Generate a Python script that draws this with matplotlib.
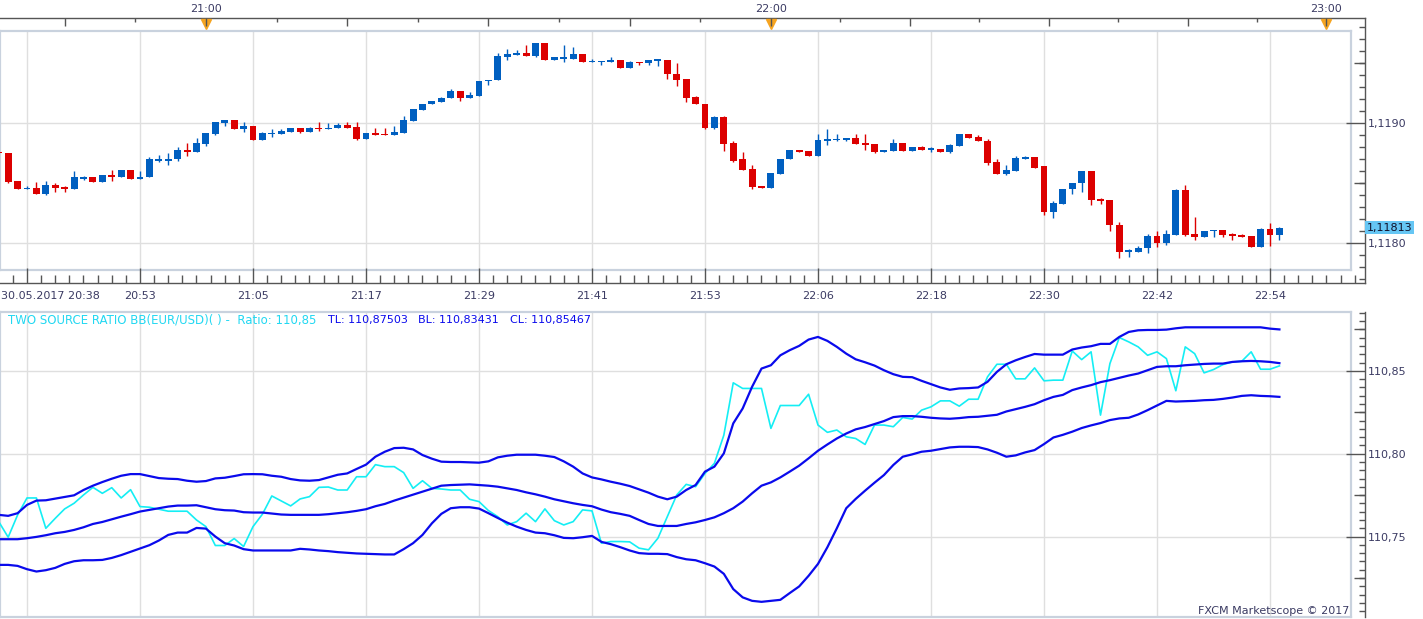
import numpy as np
import matplotlib
matplotlib.use("Agg")
import matplotlib.pyplot as plt
import matplotlib.transforms as mtransforms
from matplotlib.ticker import MultipleLocator, FixedLocator, FuncFormatter

# ---------------- data (1-minute EUR/USD bars, first bar is 3 bars before 20:38) ----------------
first_bar = -3

bar_open = [1.11876, 1.11875, 1.11852, 1.11845, 1.11846, 1.11841, 1.11849, 1.11847, 1.11845, 1.11854,
            1.11855, 1.11851, 1.11857, 1.11855, 1.11861, 1.11854, 1.11855, 1.11869, 1.11869, 1.11870,
            1.11878, 1.11876, 1.11883, 1.11891, 1.11900, 1.11903, 1.11895, 1.11898, 1.11886, 1.11891,
            1.11891, 1.11893, 1.11896, 1.11893, 1.11896, 1.11895, 1.11896, 1.11899, 1.11897, 1.11887,
            1.11892, 1.11891, 1.11890, 1.11892, 1.11902, 1.11911, 1.11916, 1.11918, 1.11921, 1.11927,
            1.11921, 1.11923, 1.11935, 1.11936, 1.11955, 1.11957, 1.11959, 1.11956, 1.11967, 1.11953,
            1.11954, 1.11954, 1.11958, 1.11951, 1.11951, 1.11951, 1.11953, 1.11946, 1.11951, 1.11950,
            1.11952, 1.11953, 1.11941, 1.11937, 1.11922, 1.11916, 1.11896, 1.11905, 1.11884, 1.11870,
            1.11862, 1.11848, 1.11846, 1.11858, 1.11870, 1.11878, 1.11877, 1.11873, 1.11885, 1.11886,
            1.11886, 1.11888, 1.11884, 1.11883, 1.11876, 1.11877, 1.11884, 1.11877, 1.11880, 1.11878,
            1.11879, 1.11876, 1.11881, 1.11891, 1.11889, 1.11885, 1.11868, 1.11858, 1.11860, 1.11870,
            1.11872, 1.11864, 1.11826, 1.11833, 1.11845, 1.11850, 1.11860, 1.11837, 1.11836, 1.11815,
            1.11793, 1.11793, 1.11796, 1.11806, 1.11800, 1.11807, 1.11844, 1.11808, 1.11805, 1.11810,
            1.11811, 1.11808, 1.11807, 1.11806, 1.11797, 1.11812, 1.11807]
bar_high = [1.11876, 1.11875, 1.11852, 1.11848, 1.11851, 1.11852, 1.11850, 1.11848, 1.11860, 1.11856,
            1.11855, 1.11857, 1.11861, 1.11861, 1.11861, 1.11860, 1.11872, 1.11874, 1.11875, 1.11880,
            1.11884, 1.11888, 1.11892, 1.11901, 1.11903, 1.11903, 1.11901, 1.11898, 1.11893, 1.11895,
            1.11895, 1.11896, 1.11896, 1.11897, 1.11901, 1.11900, 1.11900, 1.11901, 1.11901, 1.11892,
            1.11896, 1.11896, 1.11898, 1.11906, 1.11912, 1.11916, 1.11919, 1.11922, 1.11929, 1.11927,
            1.11926, 1.11935, 1.11936, 1.11959, 1.11962, 1.11961, 1.11965, 1.11967, 1.11967, 1.11955,
            1.11965, 1.11964, 1.11958, 1.11954, 1.11952, 1.11955, 1.11953, 1.11952, 1.11951, 1.11953,
            1.11953, 1.11953, 1.11950, 1.11937, 1.11923, 1.11916, 1.11906, 1.11906, 1.11885, 1.11876,
            1.11865, 1.11848, 1.11859, 1.11870, 1.11878, 1.11878, 1.11877, 1.11891, 1.11895, 1.11891,
            1.11888, 1.11891, 1.11891, 1.11883, 1.11878, 1.11887, 1.11884, 1.11880, 1.11881, 1.11880,
            1.11879, 1.11883, 1.11891, 1.11891, 1.11890, 1.11887, 1.11870, 1.11865, 1.11873, 1.11873,
            1.11872, 1.11864, 1.11835, 1.11845, 1.11850, 1.11860, 1.11860, 1.11838, 1.11836, 1.11818,
            1.11795, 1.11798, 1.11808, 1.11810, 1.11811, 1.11845, 1.11849, 1.11822, 1.11810, 1.11811,
            1.11811, 1.11809, 1.11808, 1.11806, 1.11813, 1.11817, 1.11814]
bar_low = [1.11875, 1.11850, 1.11845, 1.11845, 1.11841, 1.11840, 1.11843, 1.11843, 1.11845, 1.11853,
           1.11851, 1.11851, 1.11852, 1.11855, 1.11854, 1.11854, 1.11855, 1.11868, 1.11865, 1.11869,
           1.11873, 1.11876, 1.11881, 1.11890, 1.11898, 1.11895, 1.11893, 1.11886, 1.11886, 1.11889,
           1.11891, 1.11893, 1.11892, 1.11893, 1.11894, 1.11895, 1.11896, 1.11896, 1.11886, 1.11887,
           1.11890, 1.11890, 1.11890, 1.11892, 1.11902, 1.11911, 1.11916, 1.11918, 1.11921, 1.11919,
           1.11921, 1.11923, 1.11932, 1.11936, 1.11953, 1.11957, 1.11956, 1.11955, 1.11953, 1.11953,
           1.11951, 1.11954, 1.11951, 1.11951, 1.11949, 1.11951, 1.11946, 1.11946, 1.11949, 1.11949,
           1.11948, 1.11937, 1.11931, 1.11918, 1.11916, 1.11895, 1.11895, 1.11877, 1.11868, 1.11861,
           1.11845, 1.11846, 1.11846, 1.11858, 1.11870, 1.11876, 1.11873, 1.11873, 1.11882, 1.11885,
           1.11885, 1.11883, 1.11878, 1.11875, 1.11876, 1.11877, 1.11877, 1.11877, 1.11878, 1.11876,
           1.11876, 1.11875, 1.11881, 1.11888, 1.11885, 1.11865, 1.11858, 1.11857, 1.11860, 1.11870,
           1.11863, 1.11824, 1.11821, 1.11833, 1.11841, 1.11843, 1.11832, 1.11833, 1.11810, 1.11788,
           1.11789, 1.11793, 1.11792, 1.11797, 1.11799, 1.11807, 1.11806, 1.11803, 1.11805, 1.11805,
           1.11805, 1.11803, 1.11805, 1.11797, 1.11797, 1.11798, 1.11803]
bar_close = [1.11875, 1.11851, 1.11845, 1.11846, 1.11841, 1.11849, 1.11846, 1.11845, 1.11855, 1.11855,
             1.11851, 1.11857, 1.11855, 1.11861, 1.11854, 1.11855, 1.11870, 1.11870, 1.11870, 1.11878,
             1.11876, 1.11884, 1.11892, 1.11901, 1.11903, 1.11895, 1.11898, 1.11886, 1.11892, 1.11892,
             1.11894, 1.11896, 1.11893, 1.11896, 1.11895, 1.11896, 1.11899, 1.11896, 1.11887, 1.11892,
             1.11890, 1.11890, 1.11893, 1.11903, 1.11912, 1.11916, 1.11919, 1.11921, 1.11927, 1.11921,
             1.11924, 1.11935, 1.11936, 1.11956, 1.11958, 1.11959, 1.11956, 1.11967, 1.11953, 1.11955,
             1.11955, 1.11958, 1.11951, 1.11952, 1.11952, 1.11953, 1.11946, 1.11951, 1.11950, 1.11953,
             1.11953, 1.11941, 1.11936, 1.11921, 1.11916, 1.11896, 1.11905, 1.11883, 1.11869, 1.11861,
             1.11847, 1.11846, 1.11859, 1.11870, 1.11878, 1.11876, 1.11873, 1.11886, 1.11887, 1.11887,
             1.11888, 1.11883, 1.11882, 1.11876, 1.11878, 1.11884, 1.11877, 1.11880, 1.11878, 1.11879,
             1.11876, 1.11882, 1.11891, 1.11888, 1.11885, 1.11867, 1.11858, 1.11861, 1.11871, 1.11872,
             1.11863, 1.11826, 1.11834, 1.11845, 1.11850, 1.11860, 1.11836, 1.11835, 1.11815, 1.11793,
             1.11794, 1.11796, 1.11806, 1.11800, 1.11808, 1.11844, 1.11807, 1.11805, 1.11810, 1.11811,
             1.11807, 1.11806, 1.11805, 1.11797, 1.11812, 1.11807, 1.11813]

# ratio indicator and its bands, one value per bar
ratio = [110.7590, 110.7496, 110.7630, 110.7733, 110.7733, 110.7550, 110.7610, 110.7667, 110.7701, 110.7751,
         110.7797, 110.7761, 110.7795, 110.7733, 110.7783, 110.7681, 110.7677, 110.7665, 110.7653, 110.7653,
         110.7653, 110.7600, 110.7560, 110.7446, 110.7446, 110.7488, 110.7440, 110.7560, 110.7635, 110.7745,
         110.7715, 110.7685, 110.7727, 110.7741, 110.7797, 110.7799, 110.7781, 110.7781, 110.7861, 110.7861,
         110.7934, 110.7922, 110.7922, 110.7886, 110.7791, 110.7837, 110.7791, 110.7787, 110.7781, 110.7781,
         110.7725, 110.7711, 110.7657, 110.7620, 110.7570, 110.7590, 110.7641, 110.7590, 110.7667, 110.7596,
         110.7570, 110.7590, 110.7661, 110.7655, 110.7460, 110.7470, 110.7470, 110.7468, 110.7430, 110.7420,
         110.7490, 110.7620, 110.7751, 110.7815, 110.7801, 110.7881, 110.7942, 110.8112, 110.8428, 110.8394,
         110.8394, 110.8394, 110.8153, 110.8291, 110.8291, 110.8291, 110.8359, 110.8173, 110.8129, 110.8143,
         110.8102, 110.8092, 110.8056, 110.8173, 110.8173, 110.8163, 110.8219, 110.8209, 110.8263, 110.8283,
         110.8319, 110.8319, 110.8287, 110.8329, 110.8329, 110.8464, 110.8540, 110.8540, 110.8452, 110.8452,
         110.8518, 110.8440, 110.8444, 110.8444, 110.8620, 110.8568, 110.8615, 110.8233, 110.8544, 110.8701,
         110.8675, 110.8645, 110.8594, 110.8615, 110.8574, 110.8380, 110.8645, 110.8604, 110.8488, 110.8508,
         110.8538, 110.8554, 110.8558, 110.8615, 110.8510, 110.8510, 110.8530]
band_top = [110.7631, 110.7625, 110.7641, 110.7691, 110.7717, 110.7719, 110.7729, 110.7739, 110.7749, 110.7781,
            110.7807, 110.7829, 110.7849, 110.7867, 110.7877, 110.7877, 110.7865, 110.7853, 110.7849, 110.7847,
            110.7837, 110.7831, 110.7835, 110.7851, 110.7855, 110.7865, 110.7876, 110.7877, 110.7876, 110.7867,
            110.7861, 110.7847, 110.7839, 110.7837, 110.7841, 110.7857, 110.7873, 110.7881, 110.7908, 110.7934,
            110.7982, 110.8012, 110.8034, 110.8036, 110.8026, 110.7992, 110.7970, 110.7952, 110.7950, 110.7950,
            110.7948, 110.7946, 110.7954, 110.7978, 110.7988, 110.7994, 110.7994, 110.7994, 110.7988, 110.7980,
            110.7954, 110.7922, 110.7881, 110.7857, 110.7845, 110.7831, 110.7819, 110.7805, 110.7785, 110.7765,
            110.7741, 110.7725, 110.7741, 110.7781, 110.7811, 110.7892, 110.7922, 110.8002, 110.8183, 110.8273,
            110.8404, 110.8514, 110.8534, 110.8594, 110.8625, 110.8651, 110.8689, 110.8705, 110.8681, 110.8645,
            110.8604, 110.8570, 110.8552, 110.8532, 110.8504, 110.8480, 110.8464, 110.8462, 110.8440, 110.8420,
            110.8400, 110.8386, 110.8394, 110.8396, 110.8400, 110.8434, 110.8494, 110.8540, 110.8564, 110.8584,
            110.8602, 110.8598, 110.8598, 110.8598, 110.8629, 110.8641, 110.8649, 110.8663, 110.8663, 110.8705,
            110.8735, 110.8745, 110.8747, 110.8747, 110.8749, 110.8757, 110.8763, 110.8763, 110.8763, 110.8763,
            110.8763, 110.8763, 110.8763, 110.8763, 110.8763, 110.8755, 110.87503]
band_mid = [110.7484, 110.7484, 110.7484, 110.7490, 110.7498, 110.7508, 110.7520, 110.7528, 110.7540, 110.7556,
            110.7576, 110.7588, 110.7604, 110.7620, 110.7635, 110.7651, 110.7661, 110.7671, 110.7681, 110.7687,
            110.7687, 110.7689, 110.7677, 110.7665, 110.7659, 110.7657, 110.7647, 110.7645, 110.7645, 110.7639,
            110.7633, 110.7631, 110.7631, 110.7631, 110.7631, 110.7635, 110.7641, 110.7647, 110.7655, 110.7665,
            110.7683, 110.7697, 110.7717, 110.7735, 110.7753, 110.7771, 110.7789, 110.7807, 110.7811, 110.7813,
            110.7815, 110.7811, 110.7807, 110.7801, 110.7791, 110.7781, 110.7767, 110.7755, 110.7741, 110.7725,
            110.7713, 110.7701, 110.7691, 110.7683, 110.7663, 110.7647, 110.7637, 110.7625, 110.7600, 110.7576,
            110.7564, 110.7564, 110.7564, 110.7576, 110.7586, 110.7600, 110.7616, 110.7641, 110.7671, 110.7711,
            110.7761, 110.7807, 110.7827, 110.7857, 110.7892, 110.7928, 110.7972, 110.8018, 110.8056, 110.8092,
            110.8122, 110.8147, 110.8161, 110.8179, 110.8197, 110.8221, 110.8227, 110.8227, 110.8223, 110.8217,
            110.8213, 110.8211, 110.8215, 110.8221, 110.8223, 110.8229, 110.8235, 110.8255, 110.8269, 110.8283,
            110.8299, 110.8323, 110.8343, 110.8355, 110.8384, 110.8400, 110.8414, 110.8432, 110.8444, 110.8458,
            110.8472, 110.8484, 110.8504, 110.8524, 110.8528, 110.8528, 110.8534, 110.8538, 110.8542, 110.8544,
            110.8544, 110.8554, 110.8558, 110.8560, 110.8558, 110.8554, 110.85467]
band_low = [110.7329, 110.7329, 110.7323, 110.7303, 110.7289, 110.7297, 110.7311, 110.7335, 110.7351, 110.7357,
            110.7357, 110.7359, 110.7371, 110.7388, 110.7408, 110.7428, 110.7448, 110.7476, 110.7510, 110.7524,
            110.7524, 110.7552, 110.7548, 110.7500, 110.7460, 110.7446, 110.7424, 110.7416, 110.7416, 110.7416,
            110.7416, 110.7416, 110.7426, 110.7422, 110.7416, 110.7412, 110.7406, 110.7402, 110.7398, 110.7396,
            110.7394, 110.7392, 110.7392, 110.7424, 110.7460, 110.7510, 110.7580, 110.7637, 110.7671, 110.7677,
            110.7677, 110.7669, 110.7641, 110.7612, 110.7584, 110.7560, 110.7540, 110.7524, 110.7520, 110.7508,
            110.7492, 110.7490, 110.7496, 110.7504, 110.7468, 110.7454, 110.7436, 110.7416, 110.7400, 110.7396,
            110.7396, 110.7394, 110.7376, 110.7363, 110.7357, 110.7339, 110.7319, 110.7275, 110.7183, 110.7133,
            110.7112, 110.7106, 110.7112, 110.7118, 110.7159, 110.7199, 110.7263, 110.7335, 110.7436, 110.7550,
            110.7671, 110.7727, 110.7777, 110.7825, 110.7871, 110.7932, 110.7982, 110.7996, 110.8012, 110.8018,
            110.8028, 110.8038, 110.8042, 110.8042, 110.8040, 110.8026, 110.8006, 110.7982, 110.7990, 110.8008,
            110.8022, 110.8058, 110.8098, 110.8114, 110.8133, 110.8155, 110.8171, 110.8185, 110.8203, 110.8213,
            110.8217, 110.8237, 110.8263, 110.8291, 110.8319, 110.8315, 110.8317, 110.8319, 110.8323, 110.8325,
            110.8331, 110.8339, 110.8349, 110.8353, 110.8349, 110.8347, 110.83431]

time_tick_bars = [0, 12, 24, 36, 48, 60, 72, 84, 96, 108, 120, 132]
time_labels = ['30.05.2017 20:38', '20:53', '21:05', '21:17', '21:29', '21:41',
               '21:53', '22:06', '22:18', '22:30', '22:42', '22:54']
hour_bars = [19, 79, 138]
hour_labels = ['21:00', '22:00', '23:00']
price_ticks = [1.1180, 1.1190]
ratio_ticks = [110.75, 110.80, 110.85]

# ---------------- styling ----------------
UP = '#005fc0'
DOWN = '#dc0000'
CYAN = '#14eef4'
BLUE = '#0a0aec'
TXT = '#3b3b63'
AXIS = '#555555'
FRAME = '#c9d2de'
GRIDC = '#dfdfdf'

W, H = 1423, 619
BAR_PX = 113 / 12.0   # pixels per bar
BAR0_PX = 27.0        # pixel column of bar 0


def px_box(x0, y0, x1, y1):
    return [x0 / W, 1 - y1 / H, (x1 - x0) / W, (y1 - y0) / H]


def bar_at(px):
    return (px - BAR0_PX) / BAR_PX


def price_at(py):
    return 1.118 + (243.3 - py) / 120000.0


def ratio_at(py):
    return 110.85 + (370.7 - py) / 1660.0


def comma(v, nd):
    return f"{v:.{nd}f}".replace('.', ',')


plt.rcParams['font.family'] = ['DejaVu Sans']
fig = plt.figure(figsize=(W / 100, H / 100), dpi=100)
fig.patch.set_facecolor('white')

bar_x = np.arange(first_bar, first_bar + len(bar_open))


def style_inner(ax, yticks):
    ax.set_xticks(time_tick_bars)
    ax.set_yticks(yticks)
    ax.grid(True, color=GRIDC, lw=1.0)
    ax.set_axisbelow(True)
    ax.tick_params(length=0, labelbottom=False, labelleft=False)
    for s in ax.spines.values():
        s.set_color(FRAME)
        s.set_linewidth(1.6)


def medium_ticks(ax, ticks):
    tw = ax.twinx()
    tw.set_ylim(ax.get_ylim())
    tw.set_yticks(ticks)
    tw.tick_params(axis='y', direction='in', length=8, width=1, color=AXIS, labelright=False)
    for s in tw.spines.values():
        s.set_visible(False)
    ax.yaxis.tick_right()
    return tw


# ---------------- top panel: candles ----------------
ax1 = fig.add_axes(px_box(0, 31, 1351, 270))
ax1.set_xlim(bar_at(0), bar_at(1351))
ax1.set_ylim(price_at(270), price_at(31))
style_inner(ax1, price_ticks)

o = np.array(bar_open)
hi = np.array(bar_high)
lo = np.array(bar_low)
c = np.array(bar_close)
col = np.where(c >= o, UP, DOWN)
ax1.vlines(bar_x, lo, hi, colors=col, lw=1.0, zorder=3)
ax1.bar(bar_x, np.maximum(np.abs(c - o), 0.000012), bottom=np.minimum(o, c),
        width=0.74, color=col, lw=0, zorder=4)

# outer axis box with time and price scales
ax1o = fig.add_axes(px_box(0, 18, 1365, 283))
ax1o.patch.set_visible(False)
ax1o.set_xlim(bar_at(0), bar_at(1365))
ax1o.set_ylim(price_at(283), price_at(18))
ax1o.spines['left'].set_visible(False)
for k in ('top', 'right', 'bottom'):
    ax1o.spines[k].set_color(AXIS)
    ax1o.spines[k].set_linewidth(1.0)

medium_ticks(ax1o, [1.1185, 1.1195])

# hour scale on top (twin shares the y axis, so leave its y ticks alone)
quarters = [hour_bars[0] - 15]
eighths = [hour_bars[0] - 7.5]
for a, b in zip(hour_bars[:-1], hour_bars[1:]):
    quarters += list(np.linspace(a, b, 5)[:-1])
    eighths += list(np.linspace(a, b, 9)[1::2])
quarters.append(hour_bars[-1])
ax1t = ax1o.twiny()
ax1t.set_xlim(ax1o.get_xlim())
for s in ax1t.spines.values():
    s.set_visible(False)
ax1t.set_xticks(quarters, [hour_labels[hour_bars.index(q)] if q in hour_bars else '' for q in quarters])
ax1t.set_xticks(eighths, minor=True)
ax1t.tick_params(axis='x', which='major', direction='in', length=6, width=1, color=AXIS,
                 labelsize=8, labelcolor=TXT, pad=3)
ax1t.tick_params(axis='x', which='minor', direction='in', length=3, width=1, color=AXIS)

ax1o.xaxis.tick_bottom()
ax1o.yaxis.tick_right()
ax1o.yaxis.set_major_locator(FixedLocator(price_ticks))
ax1o.yaxis.set_major_formatter(FuncFormatter(lambda v, p: comma(v, 4)))
ax1o.yaxis.set_minor_locator(MultipleLocator(0.0001))
ax1o.tick_params(axis='y', which='major', direction='in', length=14, width=1, color=AXIS,
                 labelsize=8, labelcolor=TXT, pad=2, labelright=True)
ax1o.tick_params(axis='y', which='minor', direction='in', length=4, width=1, color=AXIS)

ax1o.set_xticks(time_tick_bars, time_labels)
ax1o.xaxis.set_minor_locator(MultipleLocator(1.5))
ax1o.tick_params(axis='x', which='major', direction='in', length=11, width=1, color=AXIS,
                 labelsize=8, labelcolor=TXT, pad=6)
ax1o.tick_params(axis='x', which='minor', direction='in', length=6, width=1, color=AXIS)
first = ax1o.xaxis.get_major_ticks()[0].label1
first.set_horizontalalignment('left')
first.set_transform(first.get_transform() +
                    mtransforms.ScaledTranslation(-0.26, 0, fig.dpi_scale_trans))

trans = mtransforms.blended_transform_factory(ax1o.transData, ax1o.transAxes)
ax1o.plot(hour_bars, [0.979] * len(hour_bars), transform=trans, ls='none', marker='v',
          ms=6.5, color='#f6a420', mec='#f6a420', clip_on=False, zorder=6)

ax1o.annotate(comma(bar_close[-1], 5), xy=(1, bar_close[-1]), xycoords=('axes fraction', 'data'),
              xytext=(1.5, 0), textcoords='offset points', ha='left', va='center',
              fontsize=8, color='#10102a',
              bbox=dict(boxstyle='square,pad=0.15', fc='#66c6f4', ec='none'))

# ---------------- bottom panel: ratio with bands ----------------
ax2 = fig.add_axes(px_box(0, 312, 1351, 617))
ax2.set_xlim(bar_at(0), bar_at(1351))
ax2.set_ylim(ratio_at(617.3), ratio_at(311.7))
style_inner(ax2, ratio_ticks)

ax2.plot(bar_x, ratio, color=CYAN, lw=1.2, zorder=3)
ax2.plot(bar_x, band_top, color=BLUE, lw=1.6, zorder=4)
ax2.plot(bar_x, band_mid, color=BLUE, lw=1.6, zorder=4)
ax2.plot(bar_x, band_low, color=BLUE, lw=1.6, zorder=4)

ty = 1 - (320 - 312) / 305.0
ax2.text(8 / 1351, ty, f"TWO SOURCE RATIO BB(EUR/USD)( ) -  Ratio: {comma(ratio[-1], 2)}",
         transform=ax2.transAxes, color='#22d8f2', fontsize=8.5, va='center', ha='left')
ax2.text(328 / 1351, ty, f"TL: {comma(band_top[-1], 5)}", transform=ax2.transAxes,
         color=BLUE, fontsize=8, va='center', ha='left')
ax2.text(418 / 1351, ty, f"BL: {comma(band_low[-1], 5)}", transform=ax2.transAxes,
         color=BLUE, fontsize=8, va='center', ha='left')
ax2.text(510 / 1351, ty, f"CL: {comma(band_mid[-1], 5)}", transform=ax2.transAxes,
         color=BLUE, fontsize=8, va='center', ha='left')
ax2.text(1349 / 1351, (617 - 611) / 305.0, "FXCM Marketscope \u00a9 2017", transform=ax2.transAxes,
         color=TXT, fontsize=8, va='center', ha='right')

ax2o = fig.add_axes(px_box(0, 312, 1365, 617))
ax2o.patch.set_visible(False)
ax2o.set_xlim(bar_at(0), bar_at(1365))
ax2o.set_ylim(ratio_at(617.3), ratio_at(311.7))
for k in ('top', 'left', 'bottom'):
    ax2o.spines[k].set_visible(False)
ax2o.spines['right'].set_color(AXIS)
ax2o.spines['right'].set_linewidth(1.0)
ax2o.xaxis.set_visible(False)
medium_ticks(ax2o, [110.725, 110.775, 110.825, 110.875])
ax2o.yaxis.set_major_locator(FixedLocator(ratio_ticks))
ax2o.yaxis.set_major_formatter(FuncFormatter(lambda v, p: comma(v, 2)))
ax2o.yaxis.set_minor_locator(MultipleLocator(0.005))
ax2o.tick_params(axis='y', which='major', direction='in', length=14, width=1, color=AXIS,
                 labelsize=8, labelcolor=TXT, pad=2)
ax2o.tick_params(axis='y', which='minor', direction='in', length=4, width=1, color=AXIS)

fig.savefig('out.png', dpi=100, facecolor='white')
